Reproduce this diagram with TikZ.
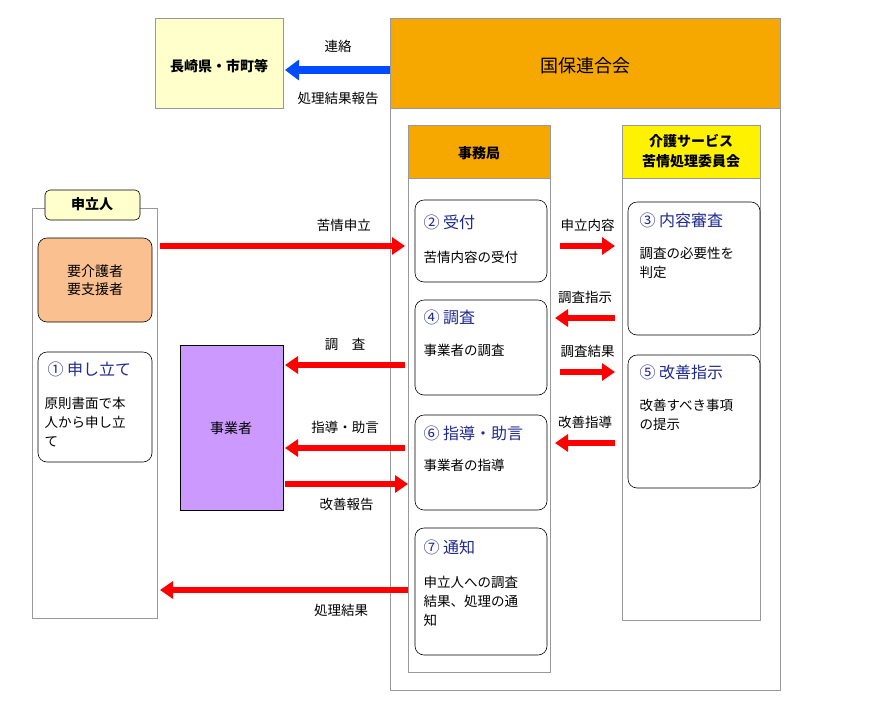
\documentclass[tikz,border=0pt]{standalone}
\usepackage{fontspec}
\setmainfont{Noto Sans CJK JP}
\usetikzlibrary{arrows.meta}
\definecolor{hdrorange}{HTML}{F7A800}
\definecolor{palepink}{HTML}{FAC090}
\definecolor{paleyellow}{HTML}{FFFFCC}
\definecolor{lilac}{HTML}{CC99FF}
\definecolor{navytxt}{HTML}{1F2A8F}
\tikzset{
  frame/.style={draw=gray!80,fill=white,line width=.6pt},
  hdr/.style={draw=gray!80,fill=hdrorange,line width=.6pt},
  stepbox/.style={draw=black,rounded corners=9pt,fill=white,line width=.6pt},
  ttl/.style={text=navytxt,font=\fontsize{16}{19}\selectfont},
  body/.style={font=\fontsize{13.5}{19}\selectfont,align=left},
  lbl/.style={font=\fontsize{13.5}{16}\selectfont},
  redarrow/.style={draw=red,line width=6pt,-{Triangle[length=13pt,width=17pt]}},
  bluearrow/.style={draw=blue!70!cyan,line width=8pt,-{Triangle[length=14pt,width=20pt]}}
}
\begin{document}
\begin{tikzpicture}[x=1pt,y=-1pt]
\useasboundingbox (0,0) rectangle (870,710);
%
% upper frames
\draw[frame,fill=paleyellow] (155,18) rectangle (283,108);
\node[font=\fontsize{14}{17}\selectfont\bfseries] (pref) at (219,66) {長崎県・市町等};
\draw[frame] (390,18) rectangle (780,690);
\draw[hdr] (390,18) rectangle (780,108);
\node[font=\fontsize{18}{21}\selectfont] (rengo) at (585,66) {国保連合会};
\draw[frame] (408,125) rectangle (550,672);
\draw[hdr] (408,125) rectangle (550,178);
\node[font=\fontsize{14}{17}\selectfont\bfseries] (jimu) at (479,153) {事務局};
\draw[frame] (622,125) rectangle (760,620);
\draw[hdr,fill=yellow] (622,125) rectangle (760,178);
\node[font=\fontsize{14}{20}\selectfont\bfseries,align=center] (iinkai) at (691,151) {介護サービス\\苦情処理委員会};
%
% applicant side
\draw[frame] (32,208) rectangle (157,618);
\draw[stepbox,fill=paleyellow,rounded corners=5pt] (45,190) rectangle (140,220);
\node[font=\fontsize{14}{17}\selectfont\bfseries] (moushi) at (92,204) {申立人};
\draw[stepbox,fill=palepink] (38,238) rectangle (152,322);
\node[font=\fontsize{14}{18}\selectfont,align=center] (yokaigo) at (95,280) {要介護者\\要支援者};
\draw[stepbox] (38,352) rectangle (152,462);
\node[ttl,anchor=west] (s1) at (44,369) {① 申し立て};
\node[body,anchor=north west] at (41,394) {原則書面で本\\人から申し立\\て};
\draw[draw=black,fill=lilac,line width=.6pt] (180,345) rectangle (283,510);
\node[font=\fontsize{14}{17}\selectfont] (jigyo) at (231,428) {事業者};
%
% steps
\draw[stepbox] (415,200) rectangle (547,282);
\node[ttl,anchor=west] (s2) at (420,222) {② 受付};
\node[body,anchor=north west] at (420,248) {苦情内容の受付};
\draw[stepbox] (415,300) rectangle (547,395);
\node[ttl,anchor=west] (s4) at (420,317) {④ 調査};
\node[body,anchor=north west] at (420,341) {事業者の調査};
\draw[stepbox] (415,415) rectangle (547,510);
\node[ttl,anchor=west] (s6) at (420,433) {⑥ 指導・助言};
\node[body,anchor=north west] at (420,456) {事業者の指導};
\draw[stepbox] (415,528) rectangle (547,655);
\node[ttl,anchor=west] (s7) at (420,547) {⑦ 通知};
\node[body,anchor=north west] at (420,573) {申立人への調査\\結果、処理の通\\知};
\draw[stepbox] (628,202) rectangle (760,335);
\node[ttl,anchor=west] (s3) at (636,220) {③ 内容審査};
\node[body,anchor=north west] at (636,244) {調査の必要性を\\判定};
\draw[stepbox] (628,355) rectangle (760,488);
\node[ttl,anchor=west] (s5) at (636,372) {⑤ 改善指示};
\node[body,anchor=north west] at (636,396) {改善すべき事項\\の提示};
%
% arrows
\coordinate (rA) at (390,70); \coordinate (pA) at (285,70);
\draw[bluearrow] (rA) -- (pA);
\node[lbl] at (338,46) {連絡};
\node[lbl] at (338,98) {処理結果報告};
\coordinate (a1) at (160,246); \coordinate (b1) at (405,246);
\draw[redarrow] (a1) -- (b1) node[lbl,pos=0.75,above=8pt] {苦情申立};
\coordinate (a2) at (560,246); \coordinate (b2) at (615,246);
\draw[redarrow] (a2) -- (b2) node[lbl,midway,above=8pt] {申立内容};
\coordinate (a3) at (615,318); \coordinate (b3) at (555,318);
\draw[redarrow] (a3) -- (b3) node[lbl,midway,above=8pt] {調査指示};
\coordinate (a4) at (560,372); \coordinate (b4) at (615,372);
\draw[redarrow] (a4) -- (b4) node[lbl,midway,above=8pt] {調査結果};
\coordinate (a5) at (615,443); \coordinate (b5) at (555,443);
\draw[redarrow] (a5) -- (b5) node[lbl,midway,above=8pt] {改善指導};
\coordinate (a6) at (405,365); \coordinate (b6) at (285,365);
\draw[redarrow] (a6) -- (b6) node[lbl,midway,above=8pt] {調\quad 査};
\coordinate (a7) at (405,448); \coordinate (b7) at (285,448);
\draw[redarrow] (a7) -- (b7) node[lbl,midway,above=8pt] {指導・助言};
\coordinate (a8) at (285,484); \coordinate (b8) at (408,484);
\draw[redarrow] (a8) -- (b8) node[lbl,midway,below=8pt] {改善報告};
\coordinate (a9) at (408,590); \coordinate (b9) at (160,590);
\draw[redarrow] (a9) -- (b9) node[lbl,pos=0.27,below=8pt] {処理結果};
\end{tikzpicture}
\end{document}
